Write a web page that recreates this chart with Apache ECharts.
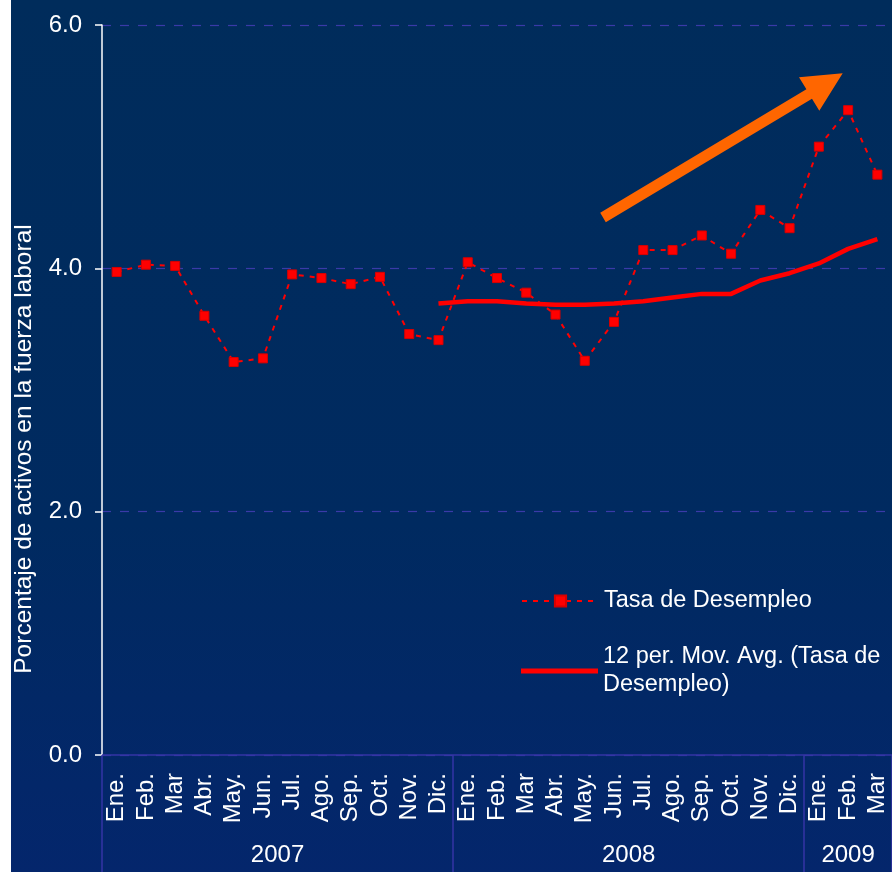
<!DOCTYPE html>
<html>
<head>
<meta charset="utf-8">
<script src="https://cdn.jsdelivr.net/npm/echarts@6/dist/echarts.min.js"></script>
<style>
  html, body { margin: 0; padding: 0; background: #fff; }
  #chart { width: 892px; height: 872px; }
</style>
</head>
<body>
<div id="chart"></div>
<script>
// meses (27 categorias: 2007 completo, 2008 completo, ene-mar 2009)
var months = ['Ene.', 'Feb.', 'Mar', 'Abr.', 'May.', 'Jun.', 'Jul.', 'Ago.', 'Sep.', 'Oct.', 'Nov.', 'Dic.',
              'Ene.', 'Feb.', 'Mar', 'Abr.', 'May.', 'Jun.', 'Jul.', 'Ago.', 'Sep.', 'Oct.', 'Nov.', 'Dic.',
              'Ene.', 'Feb.', 'Mar']
var years = ['2007', '2008', '2009']
var monthsPerYear = [12, 12, 3]

var tasa = [3.97, 4.03, 4.02, 3.61, 3.23, 3.26, 3.95, 3.92, 3.87, 3.93, 3.46, 3.41,
            4.05, 3.92, 3.80, 3.62, 3.24, 3.56, 4.15, 4.15, 4.27, 4.12, 4.48, 4.33,
            5.00, 5.30, 4.77]
// media movil de 12 periodos (empieza en dic. 2007)
var mediaMovil = [null, null, null, null, null, null, null, null, null, null, null, 3.71,
                  3.73, 3.73, 3.71, 3.70, 3.70, 3.71, 3.73, 3.76, 3.79, 3.79, 3.90, 3.96,
                  4.04, 4.16, 4.24]
var yTicks = [0, 2, 4, 6]

var nameTasa = 'Tasa de Desempleo'
var nameMedia = '12 per. Mov. Avg. (Tasa de Desempleo)'
var yTitle = 'Porcentaje de activos en la fuerza laboral'

// limites y centros de cada año sobre el eje de años
var yearBounds = [0]
var yearCenters = []
monthsPerYear.forEach(function (n, i) {
  yearCenters.push(yearBounds[i] + n / 2)
  yearBounds.push(yearBounds[i] + n)
})

var font = 'Liberation Sans, Arial, sans-serif'
var chart = echarts.init(document.getElementById('chart'))

chart.setOption({
  backgroundColor: '#ffffff',
  animation: false,
  graphic: [
    {
      type: 'rect', z: -10, silent: true,
      shape: { x: 11, y: 0, width: 881, height: 872 },
      style: {
        fill: new echarts.graphic.LinearGradient(0, 0, 0, 1, [
          { offset: 0, color: '#002c5b' },
          { offset: 0.6, color: '#002a60' },
          { offset: 1, color: '#04266c' }
        ])
      }
    },
    {
      // titulo del eje Y
      type: 'text', silent: true,
      x: 24, y: 449, rotation: Math.PI / 2,
      style: {
        text: yTitle, fill: '#ffffff', fontSize: 24.5, fontFamily: font,
        align: 'center', verticalAlign: 'middle'
      }
    },
    {
      // flecha naranja de tendencia
      type: 'polygon', z: 5, silent: true,
      shape: {
        points: [[600.2, 212.8], [806.4, 89.3], [799, 77.3], [842.7, 73.3],
                 [819.3, 110.7], [812, 98.7], [605.8, 222.2]]
      },
      style: { fill: '#ff6600' }
    }
  ],
  grid: { left: 102, right: 0, top: 25, bottom: 117, containLabel: false },
  legend: [
    {
      data: [nameTasa],
      left: 516, top: 582,
      itemWidth: 77, itemHeight: 14, itemGap: 0,
      textStyle: { color: '#ffffff', fontSize: 23.5, fontFamily: font, lineHeight: 28 },
      selectedMode: false
    },
    {
      data: [{ name: nameMedia, icon: 'rect' }],
      left: 516, top: 624,
      itemWidth: 77, itemHeight: 5,
      formatter: function () { return '12 per. Mov. Avg. (Tasa de\nDesempleo)' },
      textStyle: { color: '#ffffff', fontSize: 23.5, fontFamily: font, lineHeight: 28, padding: [28, 0, 0, 0] },
      selectedMode: false
    }
  ],
  xAxis: [
    {
      type: 'category',
      data: months,
      boundaryGap: true,
      axisLine: { lineStyle: { color: '#3535a5', width: 1.5 } },
      axisTick: { show: false },
      axisLabel: {
        interval: 0, rotate: 90, margin: 18,
        color: '#ffffff', fontSize: 24, fontFamily: font
      },
      splitLine: { show: false }
    },
    {
      type: 'value',
      min: 0, max: months.length,
      position: 'bottom',
      axisLine: { show: false },
      axisTick: {
        show: true, inside: false, length: 117,
        customValues: yearBounds,
        lineStyle: { color: '#3535a5', width: 1.5 }
      },
      axisLabel: {
        customValues: yearCenters,
        margin: 88,
        color: '#ffffff', fontSize: 24, fontFamily: font,
        formatter: function (v) {
          var i = yearCenters.indexOf(v)
          return i >= 0 ? years[i] : ''
        }
      },
      splitLine: { show: false }
    }
  ],
  yAxis: {
    type: 'value',
    min: 0, max: 6, interval: 2,
    axisLine: { show: true, lineStyle: { color: '#ffffff', width: 1.5 } },
    axisTick: { show: true, length: 7, lineStyle: { color: '#ffffff', width: 1.5 } },
    axisLabel: {
      margin: 20, color: '#ffffff', fontSize: 24, fontFamily: font,
      formatter: function (v) { return yTicks.indexOf(v) >= 0 ? v.toFixed(1) : '' }
    },
    splitLine: { show: true, lineStyle: { color: '#3a3aa8', type: [9, 9], width: 1.2 } }
  },
  series: [
    {
      name: nameTasa,
      type: 'line',
      data: tasa,
      symbol: 'rect', symbolSize: 9,
      lineStyle: { color: '#ff0000', width: 2, type: [5, 6] },
      itemStyle: { color: '#ff0000', borderColor: '#d80000', borderWidth: 1 },
      z: 3
    },
    {
      name: nameMedia,
      type: 'line',
      data: mediaMovil,
      symbol: 'none', showSymbol: false,
      connectNulls: false,
      lineStyle: { color: '#ff0000', width: 4.5 },
      itemStyle: { color: '#ff0000' },
      z: 2
    }
  ]
})
</script>
</body>
</html>
